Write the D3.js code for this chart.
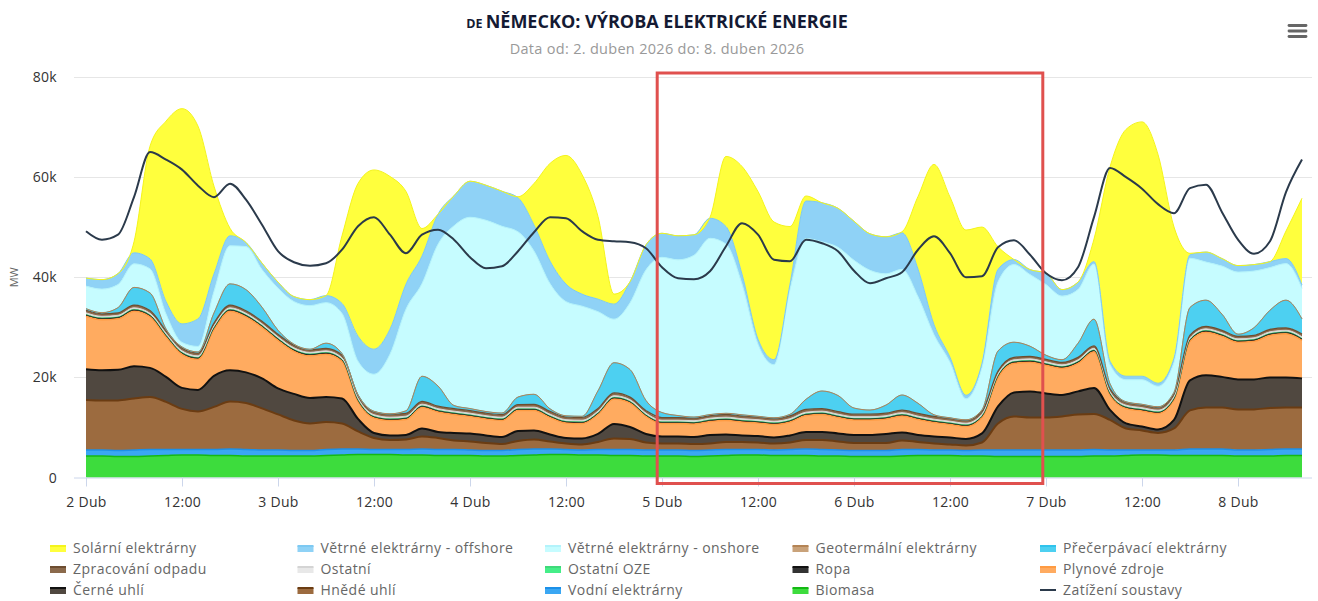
<!DOCTYPE html>
<html>
<head>
<meta charset="utf-8">
<script src="https://cdn.jsdelivr.net/npm/d3@7"></script>
<style>
  body { margin: 0; background: #fff; font-family: "Open Sans", sans-serif; }
  svg { display: block; }
</style>
</head>
<body>
<div id="chart"></div>
<script>
// time axis: 2 Dub 00:00, one value every 2 hours
const startTime = Date.UTC(2026, 3, 2, 0)
const stepHours = 2

const xTickHours = [0, 12, 24, 36, 48, 60, 72, 84, 96, 108, 120, 132, 144]
const xTickLabels = ["2 Dub", "12:00", "3 Dub", "12:00", "4 Dub", "12:00", "5 Dub", "12:00", "6 Dub", "12:00", "7 Dub", "12:00", "8 Dub"]
const yTicks = [0, 20000, 40000, 60000, 80000]
const highlightHours = [71.4, 119.6]

// values in thousands of MW
const biomasa = [4.3,4.3,4.2,4.2,4.3,4.4,4.5,4.5,4.4,4.4,4.3,4.3, 4.3,4.3,4.3,4.4,4.5,4.6,4.6,4.6,4.5,4.5,4.4,4.4,
  4.4,4.3,4.3,4.4,4.5,4.6,4.6,4.5,4.5,4.4,4.4,4.3, 4.3,4.3,4.2,4.3,4.4,4.5,4.5,4.4,4.4,4.4,4.3,4.3,
  4.2,4.2,4.2,4.3,4.4,4.4,4.4,4.3,4.3,4.2,4.2,4.2, 4.2,4.2,4.2,4.3,4.3,4.4,4.5,4.5,4.4,4.4,4.4,4.4, 4.3,4.3,4.3,4.4,4.4]
const vodni = [1.2,1.2,1.2,1.3,1.3,1.2,1.1,1.1,1.2,1.3,1.3,1.2, 1.2,1.1,1.1,1.2,1.2,1.1,1.0,1.0,1.1,1.2,1.2,1.2,
  1.1,1.1,1.1,1.2,1.2,1.1,1.0,1.0,1.1,1.2,1.2,1.2, 1.2,1.2,1.2,1.2,1.2,1.1,1.1,1.1,1.2,1.3,1.3,1.2,
  1.2,1.2,1.2,1.3,1.2,1.1,1.1,1.1,1.2,1.3,1.3,1.3, 1.3,1.3,1.3,1.3,1.2,1.1,1.0,1.0,1.1,1.3,1.3,1.3, 1.2,1.2,1.3,1.3,1.3]
const hnede = [10.0,9.9,10.0,10.3,10.5,9.5,8.1,7.6,8.5,9.5,9.3,8.3, 7.1,6.0,5.4,5.5,5.1,3.5,2.3,1.9,2.0,2.5,2.3,1.8,
  1.7,1.5,1.3,1.7,1.9,1.5,1.2,1.1,1.5,2.2,2.1,1.5, 1.3,1.3,1.3,1.3,1.5,1.5,1.4,1.3,1.4,1.8,1.9,1.7,
  1.5,1.5,1.5,1.8,1.5,1.3,1.1,1.0,1.5,5.3,6.7,6.5, 6.5,6.7,7.1,7.1,6.0,4.3,3.9,3.4,4.3,7.7,8.3,8.3, 8.1,8.1,8.3,8.3,8.3]
const cerne = [6.1,6.0,6.1,6.4,5.8,5.0,4.2,4.3,6.2,6.2,6.1,6.0, 5.2,5.3,5.1,5.0,5.0,2.5,1.0,0.9,0.9,1.6,1.2,1.5,
  1.6,1.5,1.4,2.0,1.8,1.4,1.1,1.2,1.6,2.9,2.4,1.7, 1.4,1.4,1.4,1.7,1.5,1.3,1.3,1.2,1.4,1.6,1.6,1.6,
  1.6,1.6,1.8,1.6,1.4,1.4,1.4,1.3,1.8,3.4,4.8,5.2, 4.8,4.3,4.6,5.2,2.0,1.0,0.8,0.7,1.7,6.0,6.4,6.1, 6.0,6.0,6.1,6.0,5.8]
const plyn = [10.6,10.1,10.2,11.0,10.2,8.0,6.7,6.1,9.3,11.8,11.1,10.2, 9.6,8.5,8.4,8.5,7.4,3.5,3.0,3.0,3.1,4.2,4.0,3.7,
  3.4,3.3,3.3,4.1,4.0,3.4,3.0,3.0,3.9,5.0,4.8,3.5, 2.6,2.6,2.6,2.7,2.8,2.7,2.6,2.6,2.7,3.3,3.5,3.2,
  3.0,3.0,3.0,3.3,3.1,2.8,2.6,2.5,3.2,5.8,5.8,5.8, 5.6,5.3,5.6,7.2,3.0,3.0,3.1,3.2,4.0,7.8,8.6,8.1, 7.4,7.6,8.4,8.7,7.6]
const ropa = [0.3,0.3,0.3,0.3,0.3,0.3,0.3,0.3,0.3,0.3,0.3,0.3, 0.3,0.3,0.3,0.3,0.3,0.25,0.25,0.25,0.25,0.25,0.25,0.25,
  0.25,0.25,0.25,0.25,0.25,0.25,0.25,0.25,0.25,0.25,0.25,0.25, 0.25,0.25,0.25,0.25,0.25,0.25,0.25,0.25,0.25,0.25,0.25,0.25,
  0.25,0.25,0.25,0.25,0.25,0.25,0.25,0.25,0.25,0.3,0.3,0.3, 0.3,0.3,0.3,0.3,0.25,0.25,0.25,0.25,0.25,0.3,0.3,0.3, 0.3,0.3,0.3,0.3,0.3]
const ostatniOze = [0.1,0.1,0.1,0.1,0.1,0.1,0.1,0.1,0.1,0.1,0.1,0.1, 0.1,0.1,0.1,0.1,0.1,0.1,0.1,0.1,0.1,0.1,0.1,0.1,
  0.1,0.1,0.1,0.1,0.1,0.1,0.1,0.1,0.1,0.1,0.1,0.1, 0.1,0.1,0.1,0.1,0.1,0.1,0.1,0.1,0.1,0.1,0.1,0.1,
  0.1,0.1,0.1,0.1,0.1,0.1,0.1,0.1,0.1,0.1,0.1,0.1, 0.1,0.1,0.1,0.1,0.1,0.1,0.1,0.1,0.1,0.1,0.1,0.1, 0.1,0.1,0.1,0.1,0.1]
const ostatni = [0.3,0.3,0.3,0.3,0.3,0.3,0.3,0.3,0.3,0.3,0.3,0.3, 0.3,0.3,0.3,0.3,0.3,0.3,0.3,0.3,0.3,0.3,0.3,0.3,
  0.3,0.3,0.3,0.3,0.3,0.3,0.3,0.3,0.3,0.3,0.3,0.3, 0.3,0.3,0.3,0.3,0.3,0.3,0.3,0.3,0.3,0.3,0.3,0.3,
  0.3,0.3,0.3,0.3,0.3,0.3,0.3,0.3,0.3,0.3,0.3,0.3, 0.3,0.3,0.3,0.3,0.3,0.3,0.3,0.3,0.3,0.3,0.3,0.3, 0.3,0.3,0.3,0.3,0.3]
const odpad = [0.5,0.5,0.5,0.55,0.55,0.55,0.55,0.55,0.55,0.55,0.5,0.5, 0.5,0.5,0.5,0.5,0.55,0.55,0.55,0.55,0.55,0.55,0.5,0.5,
  0.5,0.5,0.5,0.5,0.55,0.55,0.55,0.55,0.55,0.55,0.5,0.5, 0.5,0.5,0.5,0.5,0.55,0.55,0.55,0.55,0.55,0.55,0.5,0.5,
  0.5,0.5,0.5,0.5,0.55,0.55,0.55,0.55,0.55,0.55,0.5,0.5, 0.5,0.5,0.5,0.5,0.55,0.55,0.55,0.55,0.55,0.55,0.5,0.5, 0.5,0.5,0.5,0.5,0.55]
const precerpavaci = [0.3,0.2,1.0,3.5,3.5,0.3,0.2,0.2,2.0,4.2,4.2,2.8, 0.8,0.2,0.1,1.0,0.3,0.1,0.1,0.1,0.5,5.0,4.0,0.6,
  0.4,0.3,0.3,1.5,2.0,0.5,0.2,0.2,3.5,6.0,5.5,2.0, 1.0,0.4,0.2,0.2,0.2,0.2,0.1,0.1,0.3,2.0,3.5,3.2,
  1.2,0.8,1.6,3.0,2.0,0.3,0.1,0.1,0.3,4.0,3.0,2.0, 0.8,0.5,2.8,5.3,1.0,0.1,0.1,0.1,0.3,5.5,5.2,3.2, 0.4,1.5,3.8,5.5,3.0]
const geotermal = [0.03,0.03,0.03,0.03,0.03,0.03,0.03,0.03,0.03,0.03,0.03,0.03, 0.03,0.03,0.03,0.03,0.03,0.03,0.03,0.03,0.03,0.03,0.03,0.03,
  0.03,0.03,0.03,0.03,0.03,0.03,0.03,0.03,0.03,0.03,0.03,0.03, 0.03,0.03,0.03,0.03,0.03,0.03,0.03,0.03,0.03,0.03,0.03,0.03,
  0.03,0.03,0.03,0.03,0.03,0.03,0.03,0.03,0.03,0.03,0.03,0.03, 0.03,0.03,0.03,0.03,0.03,0.03,0.03,0.03,0.03,0.03,0.03,0.03, 0.03,0.03,0.03,0.03,0.03]
const onshore = [4.5,4.7,4.6,4.7,4.8,3.0,0.9,1.1,4.3,7.6,8.6,7.5, 8.4,8.5,8.7,8.1,8.0,6.7,7.4,11.9,20.3,18.5,28.3,35.9,
  38.2,38.2,37.3,33.0,28.6,25.0,22.8,22.0,15.8,8.7,13.3,26.1, 31.0,31.1,32.3,35.2,33.8,26.1,14.4,10.6,25.0,32.1,29.8,29.6,
  29.5,27.9,26.2,25.1,21.3,16.0,11.1,4.2,8.5,13.8,15.5,14.3, 14.1,12.7,10.7,11.0,3.8,4.4,4.9,4.1,6.0,9.8,7.6,9.6, 12.4,11.3,8.5,7.3,6.1]
const offshore = [1.6,1.9,2.2,2.2,2.0,2.5,3.7,5.5,3.5,2.0,0.8,1.3, 1.2,1.0,1.2,1.4,2.0,5.0,5.0,5.0,5.0,5.5,6.0,6.0,
  7.2,7.0,7.0,6.8,5.2,4.5,3.5,2.4,2.5,3.0,4.2,5.0, 4.8,4.8,4.1,4.0,3.5,2.0,1.0,1.0,1.0,7.5,7.8,7.8,
  7.8,7.3,7.4,7.3,5.5,2.0,1.0,0.7,0.8,2.5,1.0,1.0, 2.3,1.3,1.5,0.5,0.7,0.7,0.7,0.6,0.8,0.7,2.0,1.5, 1.3,1.3,1.2,1.0,0.7]
const solar = [0,0,0,2.2,22.5,36,43,38.5,17.5,1.5,0,0, 0,0,0,0,13.5,30.5,35.8,30.5,18.5,5.5,0,0,
  0,0,0,0.2,8.3,19.5,25.7,23.9,16.5,2.0,0,0, 0,0,0,0.2,14,21.5,29.5,27.5,11.5,1.0,0,0,
  0,0,0,0.2,14.5,32,32,33,27.2,4.5,0,0, 0,0,0,4.5,38.8,49.3,50.8,45.7,26.2,0.3,0,0, 0,0,0,5.5,17.3]
const zatizeni = [49.2,47.5,48.5,56,65,63.5,61.5,58.3,56,58.7,55.5,50.5, 45.2,43,42.3,42.8,45.5,50.2,52,48.5,44.8,48.5,49.5,47.5,
  44,41.8,42.2,45.2,49,52,51.8,49.2,47.5,47.2,47,45.8, 42,39.8,39.6,41.2,46.2,50.8,48.5,43.5,43.2,47.5,46.8,45.2,
  41.3,38.8,39.8,41,45.5,48.2,44.8,40,40.2,46,47.4,44.5, 40.8,39.4,42,52,61.8,60,57.7,54.6,52.8,57.8,58.5,53, 47.5,44.7,47.2,57,63.5]

// legend order; stacking goes the other way (biomasa at the bottom)
const series = [
    { key: "solar", name: "Solární elektrárny", values: solar, fill: "#ffff3d", stroke: "#f4f41c", width: 1 },
    { key: "offshore", name: "Větrné elektrárny - offshore", values: offshore, fill: "#8fd2f6", stroke: "#7dc9f2", width: 1 },
    { key: "onshore", name: "Větrné elektrárny - onshore", values: onshore, fill: "#c6fcff", stroke: "#b3f3fb", width: 1 },
    { key: "geotermal", name: "Geotermální elektrárny", values: geotermal, fill: "#c9a27a", stroke: "#b48455", width: 1 },
    { key: "precerpavaci", name: "Přečerpávací elektrárny", values: precerpavaci, fill: "#4dd0f1", stroke: "#30c3ec", width: 1 },
    { key: "odpad", name: "Zpracování odpadu", values: odpad, fill: "#8b6a4c", stroke: "#6d4d30", width: 1.2 },
    { key: "ostatni", name: "Ostatní", values: ostatni, fill: "#e8e8e8", stroke: "#d4d4d4", width: 1 },
    { key: "ostatniOze", name: "Ostatní OZE", values: ostatniOze, fill: "#45ee88", stroke: "#3fd97a", width: 0.6 },
    { key: "ropa", name: "Ropa", values: ropa, fill: "#333333", stroke: "#111111", width: 1 },
    { key: "plyn", name: "Plynové zdroje", values: plyn, fill: "#ffab60", stroke: "#ff9b42", width: 1.5 },
    { key: "cerne", name: "Černé uhlí", values: cerne, fill: "#504840", stroke: "#111111", width: 2 },
    { key: "hnede", name: "Hnědé uhlí", values: hnede, fill: "#9c6b3f", stroke: "#6b3c12", width: 2 },
    { key: "vodni", name: "Vodní elektrárny", values: vodni, fill: "#3aa7f3", stroke: "#1c90e8", width: 1.5 },
    { key: "biomasa", name: "Biomasa", values: biomasa, fill: "#3ddc3d", stroke: "#14b914", width: 1.5 }
]
const loadSeries = { name: "Zatížení soustavy", values: zatizeni, stroke: "#2b3a4b" }

const width = 1318
const height = 601
const plot = { left: 74, right: 1312, dataLeft: 86, dataRight: 1302, top: 77, bottom: 477.5 }

const svg = d3.select("#chart").append("svg")
    .attr("width", width)
    .attr("height", height)

const timeAt = (i) => new Date(startTime + i * stepHours * 3600e3)
const hourToDate = (h) => new Date(startTime + h * 3600e3)

const rows = zatizeni.map((d, i) => {
    const row = { time: timeAt(i), load: d * 1000 }
    series.forEach(s => { row[s.key] = s.values[i] * 1000 })
    return row
})

const xScale = d3.scaleUtc()
    .domain([rows[0].time, rows[rows.length - 1].time])
    .range([plot.dataLeft, plot.dataRight])

const yScale = d3.scaleLinear()
    .domain([0, 80000])
    .range([plot.bottom, plot.top])

// gridlines
svg.append("g")
    .attr("class", "grid")
    .selectAll("line")
    .data(yTicks.filter(d => d > 0))
    .join("line")
    .attr("x1", plot.left)
    .attr("x2", plot.right)
    .attr("y1", d => Math.round(yScale(d)) + 0.5)
    .attr("y2", d => Math.round(yScale(d)) + 0.5)
    .attr("stroke", "#e6e6e6")

// stacked areas
const stackKeys = series.map(s => s.key).reverse()
const stacked = d3.stack().keys(stackKeys)(rows)
const byKey = new Map(series.map(s => [s.key, s]))

const area = d3.area()
    .x(d => xScale(d.data.time))
    .y0(d => yScale(d[0]))
    .y1(d => yScale(d[1]))
    .curve(d3.curveMonotoneX)

const topLine = d3.line()
    .x(d => xScale(d.data.time))
    .y(d => yScale(d[1]))
    .curve(d3.curveMonotoneX)

const areaGroup = svg.append("g").attr("class", "areas")
areaGroup.selectAll("path.area")
    .data(stacked)
    .join("path")
    .attr("class", "area")
    .attr("d", area)
    .attr("fill", d => byKey.get(d.key).fill)

areaGroup.selectAll("path.edge")
    .data(stacked)
    .join("path")
    .attr("class", "edge")
    .attr("d", topLine)
    .attr("fill", "none")
    .attr("stroke", d => byKey.get(d.key).stroke)
    .attr("stroke-width", d => byKey.get(d.key).width)

// load line
const loadLine = d3.line()
    .x(d => xScale(d.time))
    .y(d => yScale(d.load))
    .curve(d3.curveMonotoneX)

svg.append("path")
    .datum(rows)
    .attr("d", loadLine)
    .attr("fill", "none")
    .attr("stroke", loadSeries.stroke)
    .attr("stroke-width", 2)

// x axis
const bottomAxis = d3.axisBottom(xScale)
    .tickValues(xTickHours.map(hourToDate))
    .tickFormat((d, i) => xTickLabels[i])
    .tickSize(9)
    .tickSizeOuter(0)
    .tickPadding(11)

const xAxisGroup = svg.append("g")
    .attr("class", "bottomAxis")
    .attr("transform", `translate(0,${plot.bottom})`)
    .call(bottomAxis)

xAxisGroup.select(".domain")
    .attr("d", `M${plot.left},0.5H${plot.right}`)
    .attr("stroke", "#ccd6eb")
xAxisGroup.selectAll(".tick line").attr("stroke", "#ccd6eb")
xAxisGroup.selectAll(".tick text")
    .attr("fill", "#333")
    .style("font-size", "14px")
    .style("letter-spacing", "0.3px")
    .style("font-family", "Open Sans, sans-serif")

// y axis labels
svg.append("g")
    .attr("class", "leftAxis")
    .selectAll("text")
    .data(yTicks)
    .join("text")
    .attr("x", 57)
    .attr("y", d => yScale(d) + 5)
    .attr("text-anchor", "end")
    .attr("fill", "#333")
    .style("font-size", "14px")
    .style("letter-spacing", "0.3px")
    .text(d => d === 0 ? "0" : `${d / 1000}k`)

svg.append("text")
    .attr("transform", `translate(18, ${yScale(40000)}) rotate(-90)`)
    .attr("text-anchor", "middle")
    .attr("fill", "#666")
    .style("font-size", "11px")
    .text("MW")

// title
const title = svg.append("text")
    .attr("x", 657)
    .attr("y", 28)
    .attr("text-anchor", "middle")
    .attr("fill", "#141a33")
    .style("font-weight", 700)
title.append("tspan").style("font-size", "12.5px").text("DE ")
title.append("tspan").style("font-size", "18px").text("NĚMECKO: VÝROBA ELEKTRICKÉ ENERGIE")

svg.append("text")
    .attr("x", 657)
    .attr("y", 54)
    .attr("text-anchor", "middle")
    .attr("fill", "#999")
    .style("font-size", "14.5px")
    .style("letter-spacing", "0.3px")
    .text("Data od: 2. duben 2026 do: 8. duben 2026")

// menu icon
svg.append("g")
    .selectAll("line")
    .data([25.5, 31, 36.5])
    .join("line")
    .attr("x1", 1289)
    .attr("x2", 1306)
    .attr("y1", d => d)
    .attr("y2", d => d)
    .attr("stroke", "#666")
    .attr("stroke-width", 2.8)
    .attr("stroke-linecap", "round")

// legend, 5 columns
const legendItems = [...series, { name: loadSeries.name, stroke: loadSeries.stroke, isLine: true }]
const legend = svg.append("g").attr("class", "legend")
const legendItem = legend.selectAll("g")
    .data(legendItems)
    .join("g")
    .attr("transform", (d, i) => `translate(${50 + (i % 5) * 247.5}, ${548 + Math.floor(i / 5) * 21})`)

legendItem.filter(d => !d.isLine).append("rect")
    .attr("x", 0)
    .attr("y", -2)
    .attr("width", 16)
    .attr("height", 6)
    .attr("fill", d => d.fill)
legendItem.filter(d => !d.isLine).append("line")
    .attr("x1", 0).attr("x2", 16)
    .attr("y1", -2).attr("y2", -2)
    .attr("stroke", d => d.stroke)
    .attr("stroke-width", 2)
legendItem.filter(d => d.isLine).append("line")
    .attr("x1", 0).attr("x2", 16)
    .attr("y1", 0).attr("y2", 0)
    .attr("stroke", d => d.stroke)
    .attr("stroke-width", 2)

legendItem.append("text")
    .attr("x", 23)
    .attr("y", 5)
    .attr("fill", "#666")
    .style("font-size", "14px")
    .style("letter-spacing", "0.45px")
    .text(d => d.name)

// highlight frame
svg.append("rect")
    .attr("x", xScale(hourToDate(highlightHours[0])))
    .attr("y", plot.top - 4)
    .attr("width", xScale(hourToDate(highlightHours[1])) - xScale(hourToDate(highlightHours[0])))
    .attr("height", plot.bottom - plot.top + 10)
    .attr("fill", "none")
    .attr("stroke", "#e0504e")
    .attr("stroke-width", 3)
</script>
</body>
</html>
